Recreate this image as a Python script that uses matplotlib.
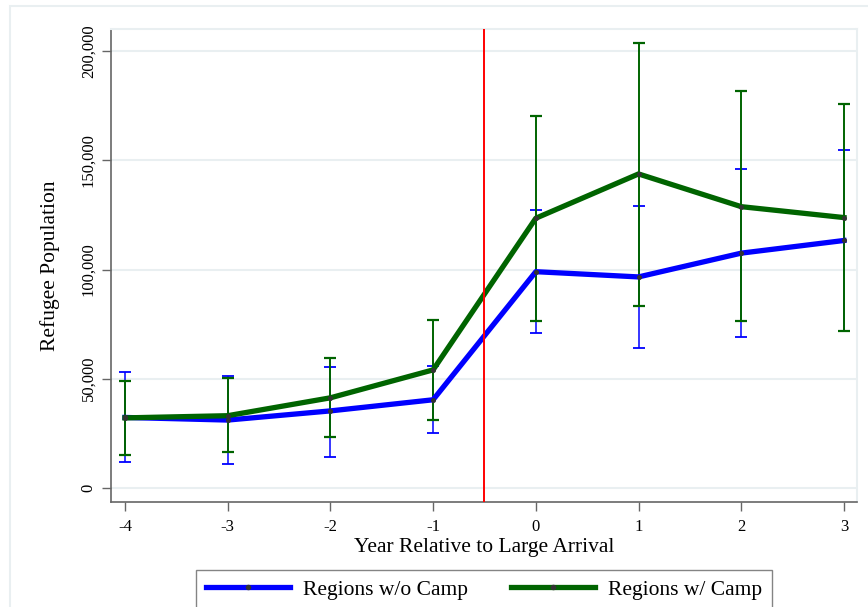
import matplotlib
matplotlib.use("Agg")
import matplotlib.pyplot as plt
from matplotlib.lines import Line2D
from matplotlib.patches import Rectangle
from matplotlib.ticker import FuncFormatter

plt.rcParams["font.family"] = ["Liberation Serif", "DejaVu Serif"]

years = [-4, -3, -2, -1, 0, 1, 2, 3]

# regions without a camp: mean and 95% bounds
no_camp = [32200, 31000, 35200, 40300, 99000, 96600, 107500, 113300]
no_camp_lo = [11900, 11000, 14200, 25200, 70800, 63800, 69000, 72000]
no_camp_hi = [53000, 51100, 55400, 55900, 127100, 129100, 145900, 154600]

# regions with a camp
camp = [32000, 33000, 41200, 54000, 123500, 143800, 128800, 123800]
camp_lo = [15100, 16300, 23400, 31100, 76300, 83300, 76200, 71900]
camp_hi = [49000, 50500, 59500, 77000, 170500, 203800, 181600, 175800]

yticks = [0, 50000, 100000, 150000, 200000]
arrival = -0.5

blue = "#0000ff"
green = "#006400"
grid_c = "#e9eff1"
dot_c = "#333333"

fig = plt.figure(figsize=(8.68, 6.07), dpi=100)
fig.patches.append(Rectangle((10 / 868, -0.1), 1.0, 1.1 - 6 / 607,
                             transform=fig.transFigure, fill=False,
                             edgecolor=grid_c, lw=1.5, zorder=0))
ax = fig.add_axes([111 / 868, 105 / 607, 746 / 868, 473 / 607])

ax.set_xlim(-4.136, 3.127)
ax.set_ylim(-6550, 210220)

for y in yticks:
    ax.axhline(y, color=grid_c, lw=1.5, zorder=0)

def err(mean, lo, hi):
    return [[m - l for m, l in zip(mean, lo)], [h - m for m, h in zip(mean, hi)]]

ax.errorbar(years, no_camp, yerr=err(no_camp, no_camp_lo, no_camp_hi), fmt="none",
            ecolor=blue, elinewidth=1.1, capsize=4.3, capthick=1.3, zorder=2)
ax.errorbar(years, camp, yerr=err(camp, camp_lo, camp_hi), fmt="none",
            ecolor=green, elinewidth=1.4, capsize=4.3, capthick=1.6, zorder=3)
ax.plot(years, no_camp, color=blue, lw=3.8, zorder=4)
ax.plot(years, camp, color=green, lw=3.8, zorder=5)
ax.plot(years, no_camp, "o", color=dot_c, ms=2.6, zorder=6)
ax.plot(years, camp, "o", color=dot_c, ms=2.6, zorder=6)

ax.axvline(arrival, color="#ff0000", lw=1.4, zorder=7)

ax.set_xticks(years)
ax.set_xticklabels([str(x) for x in years])
ax.set_yticks(yticks)
ax.yaxis.set_major_formatter(FuncFormatter(lambda v, p: f"{int(v):,}"))
for lab in ax.get_yticklabels():
    lab.set_rotation(90)
    lab.set_va("center")

ax.tick_params(axis="both", direction="out", length=6.5, width=1,
               color="#666666", labelsize=12, pad=6)
ax.tick_params(axis="y", pad=4)

for side in ["top", "right"]:
    ax.spines[side].set_color(grid_c)
    ax.spines[side].set_linewidth(1.5)
for side in ["left", "bottom"]:
    ax.spines[side].set_color("#666666")
    ax.spines[side].set_linewidth(1.2)

ax.set_xlabel("Year Relative to Large Arrival", fontsize=15.5, labelpad=2)
ax.set_ylabel("Refugee Population", fontsize=15.5, labelpad=15)

handles = [
    Line2D([], [], color=blue, lw=3.8, marker="o", ms=3, mfc=dot_c, mec=dot_c),
    Line2D([], [], color=green, lw=3.8, marker="o", ms=3, mfc=dot_c, mec=dot_c),
]
leg = fig.legend(handles, ["Regions w/o Camp", "Regions w/ Camp"], ncol=2,
                 loc="upper left", bbox_to_anchor=(196 / 868, 37 / 607, 576 / 868, 0),
                 mode="expand", frameon=True, fancybox=False, fontsize=15.5,
                 handlelength=3.9, handletextpad=0.6, numpoints=1,
                 borderpad=0.45, borderaxespad=0)
leg.get_frame().set_edgecolor("#666666")
leg.get_frame().set_linewidth(1.0)

fig.savefig("out.png", dpi=100)
